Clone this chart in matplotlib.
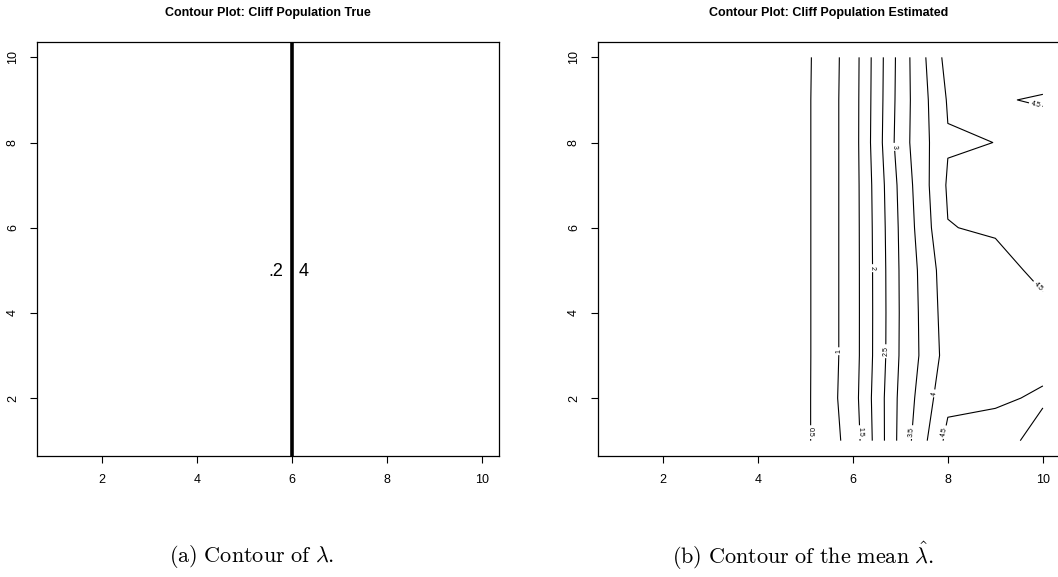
import numpy as np
import matplotlib
matplotlib.use('Agg')
import matplotlib.pyplot as plt

plt.rcParams['font.family'] = ['Liberation Sans', 'DejaVu Sans']
plt.rcParams['mathtext.fontset'] = 'cm'

# ---------------- data ----------------
grid_x = np.arange(1, 11)
grid_y = np.arange(1, 11)

# True lambda: cliff at x = 6 (0.2 to the left, 4 to the right)
cliff_x = 6
true_low_label = ".2"
true_high_label = "4"
true_label_y = 4.98

# Estimated mean lambda-hat on the grid; rows: y = 1..10, cols: x = 1..10
lam_hat = np.array([
    [0.2, 0.2, 0.2, 0.2, 0.41, 1.20, 3.15, 4.650, 4.720, 4.30],  # y=1
    [0.2, 0.2, 0.2, 0.2, 0.40, 1.28, 3.12, 4.377, 4.430, 4.56],  # y=2
    [0.2, 0.2, 0.2, 0.2, 0.40, 1.25, 3.05, 4.200, 4.300, 4.35],  # y=3
    [0.2, 0.2, 0.2, 0.2, 0.40, 1.25, 3.04, 4.250, 4.350, 4.39],  # y=4
    [0.2, 0.2, 0.2, 0.2, 0.40, 1.25, 3.05, 4.300, 4.340, 4.61],  # y=5
    [0.2, 0.2, 0.2, 0.2, 0.40, 1.25, 3.08, 4.485, 4.553, 4.65],  # y=6
    [0.2, 0.2, 0.2, 0.2, 0.40, 1.25, 3.13, 4.560, 4.600, 4.70],  # y=7
    [0.2, 0.2, 0.2, 0.2, 0.40, 1.25, 3.26, 4.465, 4.502, 4.78],  # y=8
    [0.2, 0.2, 0.2, 0.2, 0.40, 1.25, 3.22, 4.543, 4.543, 4.45],  # y=9
    [0.2, 0.2, 0.2, 0.2, 0.39, 1.24, 3.20, 4.690, 4.650, 4.83],  # y=10
])
levels = [0.5, 1.0, 1.5, 2.0, 2.5, 3.0, 3.5, 4.0, 4.5]
label_spots = [(5.12, 1.2), (5.72, 3.1), (6.14, 1.2), (6.4, 5.05), (6.68, 3.1),
               (6.9, 7.9), (7.25, 1.2), (7.78, 2.1), (7.93, 1.2), (9.9, 4.62),
               (9.85, 8.9)]

ticks = [2, 4, 6, 8, 10]
titles = ["Contour Plot: Cliff Population True",
          "Contour Plot: Cliff Population Estimated"]
captions = [r"$\mathrm{(a)\ Contour\ of\ }\lambda\mathrm{.}$",
            r"$\mathrm{(b)\ Contour\ of\ the\ mean\ }\hat{\lambda}\mathrm{.}$"]

# ---------------- figure ----------------
W, H = 1058, 577
fig = plt.figure(figsize=(W / 100, H / 100), dpi=100)

def px_axes(l, r, t, b):
    return fig.add_axes([l / W, 1 - b / H, (r - l) / W, (b - t) / H])

axL = px_axes(37, 499, 42, 456)
axR = px_axes(598, 1060, 42, 456)

for ax, title in zip([axL, axR], titles):
    ax.set_xlim(0.64, 10.36)
    ax.set_ylim(0.64, 10.36)
    ax.set_xticks(ticks)
    ax.set_yticks(ticks)
    ax.tick_params(direction='out', length=5, width=0.8, labelsize=9, pad=8)
    for lab in ax.get_yticklabels():
        lab.set_rotation(90)
        lab.set_va('center')
    for s in ax.spines.values():
        s.set_linewidth(0.9)
    ax.set_title(title, fontsize=9, fontweight='bold', pad=19)

# left: true cliff
axL.axvline(cliff_x, color='black', lw=2.6)
axL.annotate(true_low_label, (cliff_x, true_label_y), xytext=(-6, 0),
             textcoords='offset points', ha='right', va='center', fontsize=13)
axL.annotate(true_high_label, (cliff_x, true_label_y), xytext=(5, 0),
             textcoords='offset points', ha='left', va='center', fontsize=13)

# right: estimated contour
cs = axR.contour(grid_x, grid_y, lam_hat, levels=levels, colors='black',
                 linewidths=0.8)
axR.clabel(cs, fmt='%g', fontsize=5, inline=True, inline_spacing=2,
           manual=label_spots)

# captions
fig.text(252 / W, 1 - 556 / H, captions[0], ha='center', va='center', fontsize=16)
fig.text(803 / W, 1 - 556 / H, captions[1], ha='center', va='center', fontsize=16)

fig.savefig('out.png', dpi=100)
